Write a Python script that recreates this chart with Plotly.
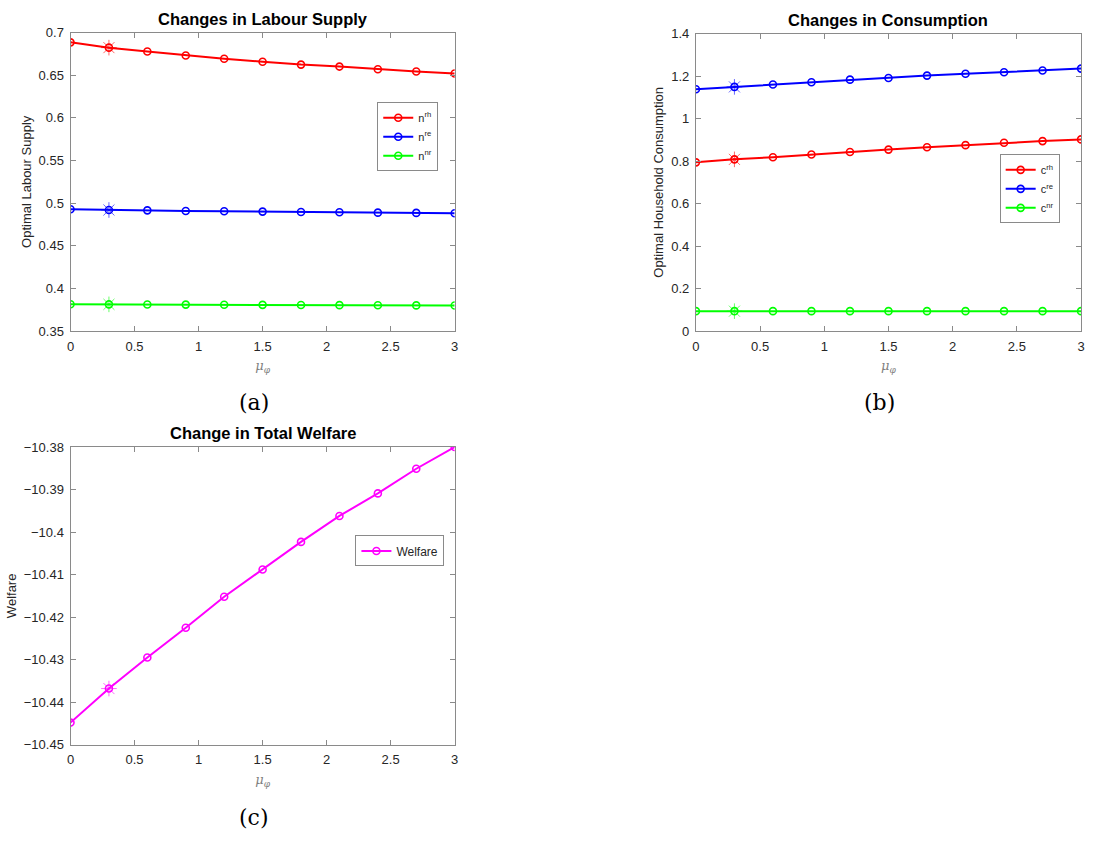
import plotly.graph_objects as go

W, H = 1094, 846

mu_phi = [0.0, 0.3, 0.6, 0.9, 1.2, 1.5, 1.8, 2.1, 2.4, 2.7, 3.0]

n_rh = [0.6885, 0.6823, 0.6777, 0.6731, 0.6692, 0.6658, 0.6624, 0.6601, 0.6570, 0.6543, 0.6520]
n_re = [0.4928, 0.4920, 0.4916, 0.4909, 0.4905, 0.4901, 0.4897, 0.4893, 0.4889, 0.4886, 0.4882]
n_nr = [0.3815, 0.3814, 0.3812, 0.3811, 0.3809, 0.3808, 0.3806, 0.3805, 0.3803, 0.3802, 0.3800]

c_rh = [0.794, 0.808, 0.818, 0.831, 0.843, 0.854, 0.865, 0.875, 0.886, 0.894, 0.902]
c_re = [1.138, 1.149, 1.160, 1.171, 1.183, 1.191, 1.202, 1.211, 1.218, 1.226, 1.235]
c_nr = [0.094, 0.094, 0.094, 0.094, 0.094, 0.094, 0.094, 0.094, 0.094, 0.094, 0.094]

welfare = [-10.4448, -10.4368, -10.4295, -10.4225, -10.4152, -10.4088,
           -10.4023, -10.3962, -10.3909, -10.3851, -10.3800]

RED, BLUE, GREEN, MAG = "#FF0000", "#0000FF", "#00FF00", "#FF00FF"
FONT = "Liberation Sans, Arial, sans-serif"
AXC = "#262626"
LINEC = "#8a8a8a"


def px(x):
    return x / W


def py(y):
    return 1 - y / H


fig = go.Figure()


def add_series(x, y, color, name, xa, ya, legend):
    fig.add_trace(go.Scatter(
        x=x, y=y, mode="lines+markers", name=name,
        line=dict(color=color, width=2),
        marker=dict(symbol="circle-open", size=7, color=color, line=dict(width=1.6, color=color)),
        xaxis=xa, yaxis=ya, legend=legend,
    ))
    fig.add_trace(go.Scatter(
        x=[x[1]], y=[y[1]], mode="markers", showlegend=False,
        marker=dict(symbol="asterisk-open", size=13, color=color, opacity=0.6,
                    line=dict(width=1, color=color)),
        xaxis=xa, yaxis=ya, hoverinfo="skip",
    ))


add_series(mu_phi, n_rh, RED, "n<sup>rh</sup>", "x", "y", "legend")
add_series(mu_phi, n_re, BLUE, "n<sup>re</sup>", "x", "y", "legend")
add_series(mu_phi, n_nr, GREEN, "n<sup>nr</sup>", "x", "y", "legend")

add_series(mu_phi, c_rh, RED, "c<sup>rh</sup>", "x2", "y2", "legend2")
add_series(mu_phi, c_re, BLUE, "c<sup>re</sup>", "x2", "y2", "legend2")
add_series(mu_phi, c_nr, GREEN, "c<sup>nr</sup>", "x2", "y2", "legend2")

add_series(mu_phi, welfare, MAG, "Welfare", "x3", "y3", "legend3")

# panel pixel boxes: (left, top, right, bottom)
A = (67, 26, 454, 330)
B = (697, 27, 1085, 330)
C = (67, 448, 454, 751)


def axis_common():
    return dict(
        showline=True, linecolor=LINEC, linewidth=1, mirror="ticks",
        ticks="inside", ticklen=5, tickcolor=LINEC, showgrid=False, zeroline=False,
        tickfont=dict(family=FONT, size=13, color=AXC), ticklabelstandoff=3,
    )


xt = dict(text="<i>μ</i><sub><i>φ</i></sub>", font=dict(family="DejaVu Serif, serif", size=13, color="#7f7f7f"), standoff=8)

fig.update_layout(
    width=W, height=H,
    margin=dict(l=0, r=0, t=0, b=0),
    paper_bgcolor="white", plot_bgcolor="white",
    xaxis=dict(domain=[px(A[0]), px(A[2])], anchor="y", range=[0, 3], dtick=0.5,
               title=xt, **axis_common()),
    yaxis=dict(domain=[py(A[3]), py(A[1])], anchor="x", range=[0.35, 0.7], dtick=0.05,
               title=dict(text="Optimal Labour Supply", font=dict(family=FONT, size=13, color=AXC), standoff=4),
               **axis_common()),
    xaxis2=dict(domain=[px(B[0]), px(B[2])], anchor="y2", range=[0, 3], dtick=0.5,
                title=xt, **axis_common()),
    yaxis2=dict(domain=[py(B[3]), py(B[1])], anchor="x2", range=[0, 1.4], dtick=0.2,
                title=dict(text="Optimal Household Consumption", font=dict(family=FONT, size=13, color=AXC), standoff=4),
                **axis_common()),
    xaxis3=dict(domain=[px(C[0]), px(C[2])], anchor="y3", range=[0, 3], dtick=0.5,
                title=xt, **axis_common()),
    yaxis3=dict(domain=[py(C[3]), py(C[1])], anchor="x3", range=[-10.45, -10.38], dtick=0.01,
                title=dict(text="Welfare", font=dict(family=FONT, size=13, color=AXC), standoff=4),
                **axis_common()),
    legend=dict(x=px(376), y=py(97), xanchor="left", yanchor="top",
                bgcolor="white", bordercolor=LINEC, borderwidth=1,
                font=dict(family=FONT, size=11, color=AXC), tracegroupgap=0,
                itemwidth=30),
    legend2=dict(x=px(1003), y=py(150), xanchor="left", yanchor="top",
                 bgcolor="white", bordercolor=LINEC, borderwidth=1,
                 font=dict(family=FONT, size=11, color=AXC), tracegroupgap=0,
                 itemwidth=30),
    legend3=dict(x=px(354), y=py(538), xanchor="left", yanchor="top",
                 bgcolor="white", bordercolor=LINEC, borderwidth=1,
                 font=dict(family=FONT, size=12, color=AXC), tracegroupgap=0,
                 itemwidth=30),
    showlegend=True,
)

titles = [
    ("Changes in Labour Supply", A),
    ("Changes in Consumption", B),
    ("Change in Total Welfare", C),
]
for text, box in titles:
    fig.add_annotation(
        text=f"<b>{text}</b>", x=px((box[0] + box[2]) / 2), y=py(box[1] - 3),
        xref="paper", yref="paper", xanchor="center", yanchor="bottom", showarrow=False,
        font=dict(family=FONT, size=16.5, color="black"),
    )

captions = [("(a)", 252, 403), ("(b)", 882, 403), ("(c)", 252, 825)]
for text, cx, cy in captions:
    fig.add_annotation(
        text=text, x=px(cx), y=py(cy), xref="paper", yref="paper",
        xanchor="center", yanchor="middle", showarrow=False,
        font=dict(family="DejaVu Serif, serif", size=22, color="black"),
    )

fig.write_html("out.html")
